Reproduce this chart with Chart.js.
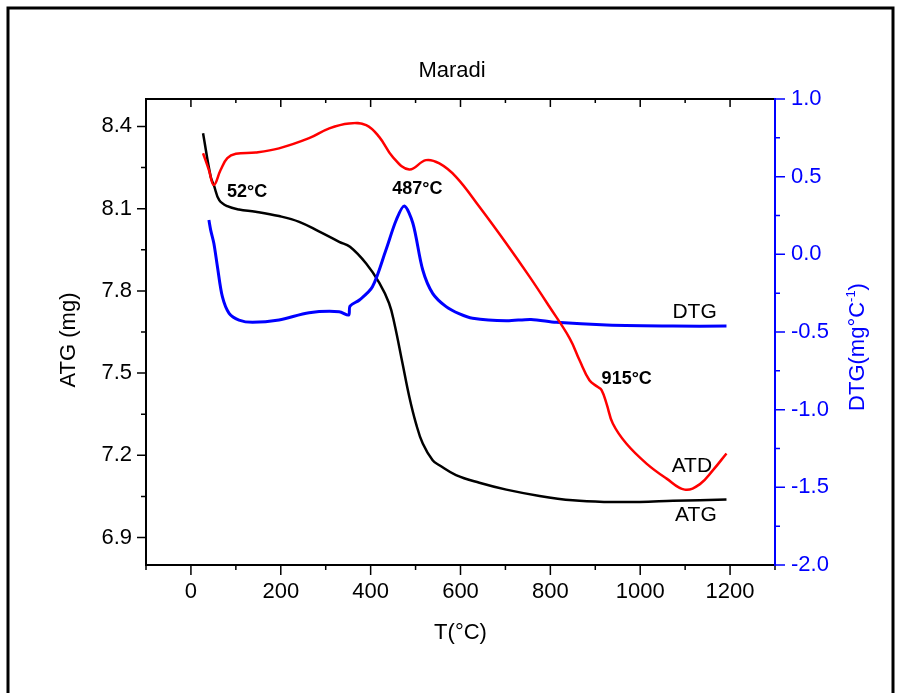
<!DOCTYPE html>
<html>
<head>
<meta charset="utf-8">
<script src="https://cdn.jsdelivr.net/npm/chart.js@4.4.1/dist/chart.umd.min.js"></script>
<style>
  body { margin: 0; background: #fff; }
  canvas { display: block; }
</style>
</head>
<body>
<canvas id="tgaChart" width="909" height="693"></canvas>
<script>
// ATG (mass loss) curve
const atgTemp = [27, 44, 51, 63, 81, 107, 144, 196, 241, 286, 330, 354, 390, 419, 441, 453, 471, 486, 501, 516, 538, 553, 590, 642, 702, 776, 850, 925, 999, 1073, 1192];
const atgMass = [8.375, 8.216, 8.186, 8.131, 8.109, 8.097, 8.089, 8.073, 8.052, 8.016, 7.979, 7.961, 7.90, 7.83, 7.755, 7.68, 7.535, 7.414, 7.316, 7.243, 7.182, 7.164, 7.128, 7.10, 7.075, 7.052, 7.036, 7.030, 7.030, 7.034, 7.039];

// ATD curve (drawn against the left scale)
const atdTemp = [27, 40, 51, 66, 81, 100, 144, 196, 263, 308, 352, 390, 419, 449, 486, 523, 553, 590, 642, 702, 754, 798, 843, 865, 887, 905, 914, 925, 939, 969, 1014, 1058, 1099, 1133, 1162, 1192];
const atdValue = [8.302, 8.241, 8.186, 8.241, 8.284, 8.30, 8.305, 8.32, 8.357, 8.393, 8.411, 8.405, 8.362, 8.289, 8.243, 8.277, 8.265, 8.216, 8.107, 7.973, 7.851, 7.742, 7.627, 7.547, 7.474, 7.45, 7.438, 7.389, 7.316, 7.243, 7.17, 7.116, 7.075, 7.095, 7.146, 7.207];

// DTG curve (right scale)
const dtgTemp = [40, 44, 51, 59, 70, 85, 107, 137, 196, 263, 330, 351, 354, 375, 404, 434, 457, 475, 494, 516, 538, 568, 598, 627, 702, 757, 813, 925, 1073, 1192];
const dtgValue = [0.221, 0.156, 0.071, -0.080, -0.273, -0.380, -0.423, -0.438, -0.423, -0.376, -0.369, -0.391, -0.333, -0.294, -0.209, 0.028, 0.221, 0.311, 0.20, -0.101, -0.251, -0.337, -0.384, -0.412, -0.428, -0.419, -0.438, -0.455, -0.462, -0.462];

const xTicks = [0, 200, 400, 600, 800, 1000, 1200];
const atgTicks = [6.9, 7.2, 7.5, 7.8, 8.1, 8.4];
const dtgTicks = [-2.0, -1.5, -1.0, -0.5, 0.0, 0.5, 1.0];

const FONT = 'Liberation Sans, Arial, sans-serif';

function pairs(xs, ys) {
    return xs.map((v, i) => ({ x: v, y: ys[i] }));
}

const decor = {
    id: 'decor',
    beforeDraw(chart) {
        const ctx = chart.ctx;
        ctx.save();
        ctx.fillStyle = '#fff';
        ctx.fillRect(0, 0, chart.width, chart.height);
        ctx.restore();
    },
    afterDraw(chart) {
        const ctx = chart.ctx;
        const a = chart.chartArea;
        const x = chart.scales.x, y = chart.scales.y, y2 = chart.scales.y2;
        ctx.save();

        // outer frame
        ctx.strokeStyle = '#000';
        ctx.lineWidth = 3;
        ctx.strokeRect(8, 8, 885, 700);

        // axis lines
        ctx.lineWidth = 2;
        ctx.beginPath();
        ctx.moveTo(a.left, a.top); ctx.lineTo(a.right, a.top);
        ctx.moveTo(a.left, a.bottom); ctx.lineTo(a.right + 1, a.bottom);
        ctx.moveTo(a.left, a.top - 1); ctx.lineTo(a.left, a.bottom + 1);
        ctx.stroke();

        // x ticks, bottom outward and top inward
        ctx.lineWidth = 1.5;
        ctx.beginPath();
        for (let t = -100; t <= 1300; t += 100) {
            const px = x.getPixelForValue(t);
            const major = t % 200 === 0;
            ctx.moveTo(px, a.bottom); ctx.lineTo(px, a.bottom + (major ? 10 : 5));
            ctx.moveTo(px, a.top); ctx.lineTo(px, a.top + (major ? 8 : 4));
        }
        // left ticks
        for (let i = 0; i <= 10; i++) {
            const py = y.getPixelForValue(6.9 + i * 0.15);
            ctx.moveTo(a.left, py); ctx.lineTo(a.left - (i % 2 === 0 ? 9 : 5), py);
        }
        ctx.stroke();

        // right blue axis
        ctx.strokeStyle = '#0000ff';
        ctx.lineWidth = 2;
        ctx.beginPath();
        ctx.moveTo(a.right, a.top - 1); ctx.lineTo(a.right, a.bottom + 1);
        ctx.stroke();
        ctx.lineWidth = 1.5;
        ctx.beginPath();
        for (let i = 0; i <= 12; i++) {
            const py = y2.getPixelForValue(-2 + i * 0.25);
            ctx.moveTo(a.right, py); ctx.lineTo(a.right + (i % 2 === 0 ? 10 : 5), py);
        }
        ctx.stroke();

        // titles
        ctx.fillStyle = '#000';
        ctx.textAlign = 'center';
        ctx.textBaseline = 'middle';
        ctx.font = '22px ' + FONT;
        ctx.fillText('Maradi', 452, 71);
        ctx.fillText('T(\u00b0C)', (a.left + a.right) / 2, 633);

        ctx.save();
        ctx.translate(69, 340);
        ctx.rotate(-Math.PI / 2);
        ctx.fillText('ATG (mg)', 0, 0);
        ctx.restore();

        // DTG title with superscript
        ctx.save();
        ctx.translate(858, 347);
        ctx.rotate(-Math.PI / 2);
        ctx.fillStyle = '#0000ff';
        ctx.textAlign = 'left';
        const big = '22px ' + FONT, small = '13px ' + FONT;
        ctx.font = big;
        const w1 = ctx.measureText('DTG(mg\u00b0C').width;
        const w3 = ctx.measureText(')').width;
        ctx.font = small;
        const w2 = ctx.measureText('-1').width;
        let cx = -(w1 + w2 + w3) / 2;
        ctx.font = big;
        ctx.fillText('DTG(mg\u00b0C', cx, 0);
        cx += w1;
        ctx.font = small;
        ctx.fillText('-1', cx, -7);
        cx += w2;
        ctx.font = big;
        ctx.fillText(')', cx, 0);
        ctx.restore();

        // curve labels
        ctx.fillStyle = '#000';
        ctx.textAlign = 'center';
        ctx.font = 'bold 18px ' + FONT;
        ctx.fillText('52\u00b0C', x.getPixelForValue(125), y.getPixelForValue(8.161));
        ctx.fillText('487\u00b0C', x.getPixelForValue(504), y.getPixelForValue(8.172));
        ctx.fillText('915\u00b0C', x.getPixelForValue(970), y.getPixelForValue(7.478));
        ctx.font = '21px ' + FONT;
        ctx.fillText('DTG', x.getPixelForValue(1121), y2.getPixelForValue(-0.372));
        ctx.fillText('ATD', x.getPixelForValue(1115), y.getPixelForValue(7.161));
        ctx.fillText('ATG', x.getPixelForValue(1124), y.getPixelForValue(6.982));

        ctx.restore();
    }
};

const ctx = document.getElementById('tgaChart').getContext('2d');
new Chart(ctx, {
    type: 'line',
    data: {
        datasets: [
            { label: 'ATD', data: pairs(atdTemp, atdValue), yAxisID: 'y', borderColor: '#ff0000', borderWidth: 2.5, pointRadius: 0, tension: 0.4, fill: false },
            { label: 'DTG', data: pairs(dtgTemp, dtgValue), yAxisID: 'y2', borderColor: '#0000ff', borderWidth: 3, pointRadius: 0, tension: 0.3, fill: false },
            { label: 'ATG', data: pairs(atgTemp, atgMass), yAxisID: 'y', borderColor: '#000000', borderWidth: 2.5, pointRadius: 0, tension: 0.4, fill: false }
        ]
    },
    options: {
        responsive: false,
        animation: false,
        devicePixelRatio: 1,
        layout: { padding: { top: 99, left: 0, right: 0, bottom: 0 } },
        plugins: {
            legend: { display: false },
            title: { display: false },
            tooltip: { enabled: false }
        },
        scales: {
            x: {
                type: 'linear',
                min: -100,
                max: 1300,
                grid: { display: false, drawTicks: false },
                border: { display: false },
                afterBuildTicks: s => { s.ticks = xTicks.map(v => ({ value: v })); },
                afterFit: s => { s.height = 128; },
                ticks: { color: '#000', font: { family: FONT, size: 22 }, padding: 14, maxRotation: 0, callback: v => String(v) }
            },
            y: {
                position: 'left',
                min: 6.8,
                max: 8.5,
                grid: { display: false, drawTicks: false },
                border: { display: false },
                afterBuildTicks: s => { s.ticks = atgTicks.map(v => ({ value: v })); },
                afterFit: s => { s.width = 146; },
                ticks: { color: '#000', font: { family: FONT, size: 22 }, padding: 14, callback: v => Number(v).toFixed(1) }
            },
            y2: {
                position: 'right',
                min: -2,
                max: 1,
                grid: { display: false, drawTicks: false },
                border: { display: false },
                afterBuildTicks: s => { s.ticks = dtgTicks.map(v => ({ value: v })); },
                afterFit: s => { s.width = 134; },
                ticks: { color: '#0000ff', font: { family: FONT, size: 22 }, padding: 16, callback: v => Number(v).toFixed(1) }
            }
        }
    },
    plugins: [decor]
});
</script>
</body>
</html>
